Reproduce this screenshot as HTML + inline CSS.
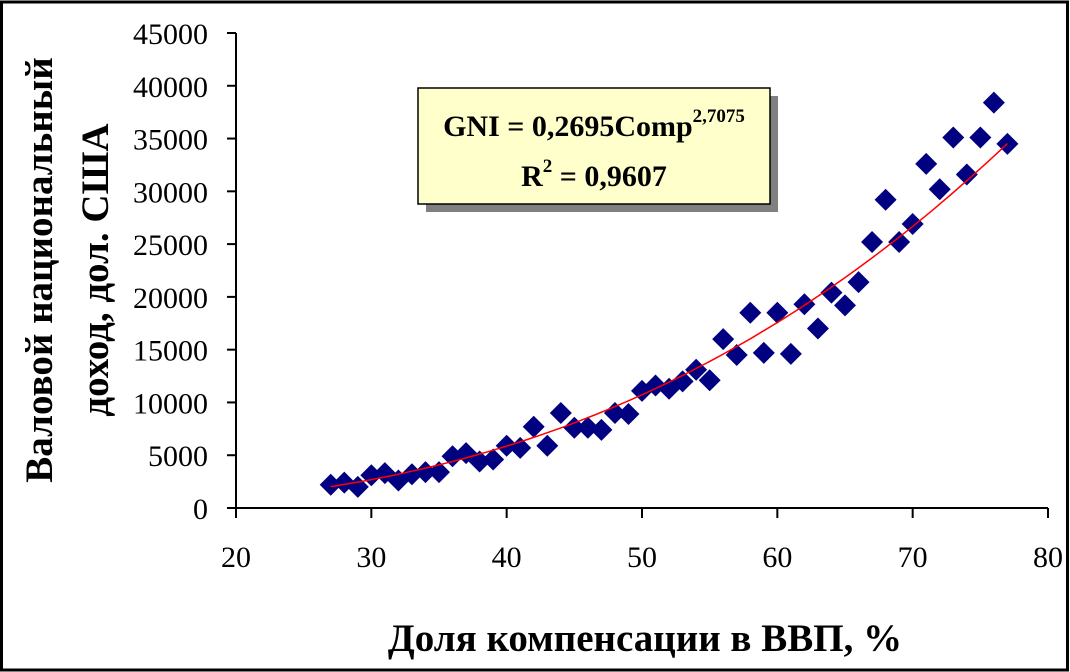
<!DOCTYPE html>
<html><head><meta charset="utf-8"><style>
body{margin:0;background:#fff}
svg{display:block;font-family:"Liberation Serif","DejaVu Serif",serif}
</style></head><body>
<svg id="s" width="1070" height="672" xmlns="http://www.w3.org/2000/svg">
<rect x="1.5" y="2" width="1066" height="668" fill="#fff" stroke="#000" stroke-width="3"/>
<g id="g"></g>
<g font-weight="bold" font-size="39" fill="#000">
<text transform="translate(52,270) rotate(-90)" text-anchor="middle">Валовой национальный</text>
<text transform="translate(108,270) rotate(-90)" text-anchor="middle">доход, дол. США</text>
<text x="645" y="651" text-anchor="middle">Доля компенсации в ВВП, %</text>
</g>
<rect x="426" y="96" width="352" height="116" fill="#808080"/>
<rect x="418" y="88" width="352" height="116" fill="#ffffcc" stroke="#000" stroke-width="1.5"/>
<g font-weight="bold" font-size="30" fill="#000" text-anchor="middle">
<text x="594" y="136">GNI = 0,2695Comp<tspan font-size="19" dy="-14">2,7075</tspan></text>
<text x="594" y="186">R<tspan font-size="19" dy="-14">2</tspan><tspan dy="14"> = 0,9607</tspan></text>
</g>
</svg>
<script>
var g=document.getElementById('g'),h='';
function X(v){return 236+(v-20)*812/60}
function Y(v){return 508-v*475/45000}
h+='<line x1="236" y1="33" x2="236" y2="508" stroke="#000" stroke-width="2"/>';
h+='<line x1="236" y1="508" x2="1048" y2="508" stroke="#000" stroke-width="2"/>';
for(var i=0;i<=9;i++){var y=Y(i*5000);h+='<line x1="227" y1="'+y+'" x2="236" y2="'+y+'" stroke="#000" stroke-width="2"/>';
h+='<text x="208" y="'+(y+11)+'" font-size="30" text-anchor="end">'+(i*5000)+'</text>';}
for(var v=20;v<=80;v+=10){var x=X(v);h+='<line x1="'+x+'" y1="508" x2="'+x+'" y2="518" stroke="#000" stroke-width="2"/>';
h+='<text x="'+x+'" y="567" font-size="30" text-anchor="middle">'+v+'</text>';}
var d=[2200,2400,2000,3100,3300,2600,3200,3400,3400,4900,5200,4400,4600,5900,5700,7700,5900,9000,7600,7600,7400,9000,8900,11100,11600,11300,12000,13100,12100,16000,14500,18500,14700,18500,14600,19300,17000,20400,19200,21400,25200,29200,25200,26900,32600,30200,35100,31600,35100,38400,34500];
for(var k=0;k<d.length;k++){var x=X(27+k),y=Y(d[k]);
h+='<polygon points="'+x+','+(y-11)+' '+(x+11)+','+y+' '+x+','+(y+11)+' '+(x-11)+','+y+'" fill="#000080"/>';}
var p='';for(var t=27;t<=77.01;t+=0.5){p+=(p?'L':'M')+X(t).toFixed(1)+','+Y(0.2695*Math.pow(t,2.7075)).toFixed(1);}
h+='<path d="'+p+'" fill="none" stroke="#ff0000" stroke-width="1.5"/>';
g.innerHTML=h;
</script>
</body></html>
